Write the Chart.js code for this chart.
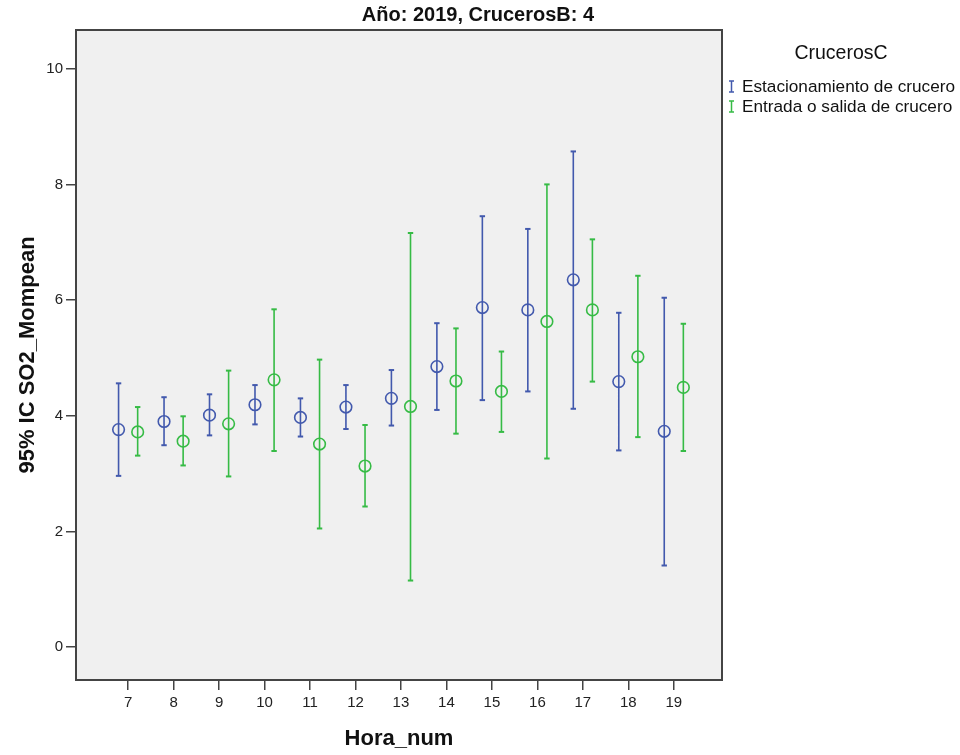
<!DOCTYPE html>
<html>
<head>
<meta charset="utf-8">
<script src="https://cdn.jsdelivr.net/npm/chart.js@4.4.0/dist/chart.umd.min.js"></script>
<style>
  body { margin: 0; background: #fff; font-family: "Liberation Sans", Arial, sans-serif; }
  #wrap { position: relative; width: 960px; height: 755px; }
  #titulo { position: absolute; top: 2px; left: 0; width: 956px; text-align: center;
            font-weight: bold; font-size: 20px; line-height: 24px; color: #111; }
  #leyenda { position: absolute; left: 722px; top: 40px; width: 238px; color: #111; }
  #leyenda .tit { text-align: center; font-size: 19.5px; line-height: 24px; margin-bottom: 12px; }
  #leyenda .item { font-size: 17.2px; line-height: 20px; white-space: nowrap; padding-left: 6px; }
  #leyenda svg { vertical-align: -1px; margin-right: 7px; }
</style>
</head>
<body>
<div id="wrap">
  <canvas id="grafico"></canvas>
  <div id="titulo">Año: 2019, CrucerosB: 4</div>
  <div id="leyenda"></div>
</div>
<script>
// Datos (media e IC 95%)
const horas = [7, 8, 9, 10, 11, 12, 13, 14, 15, 16, 17, 18, 19];

const estMedia = [3.76, 3.90, 4.01, 4.19, 3.97, 4.15, 4.30, 4.85, 5.87, 5.83, 6.35, 4.59, 3.73];
const estInf   = [2.96, 3.49, 3.66, 3.85, 3.64, 3.77, 3.83, 4.10, 4.27, 4.42, 4.12, 3.40, 1.41];
const estSup   = [4.56, 4.32, 4.37, 4.53, 4.30, 4.53, 4.79, 5.60, 7.45, 7.23, 8.57, 5.78, 6.04];

const entMedia = [3.72, 3.56, 3.86, 4.62, 3.51, 3.13, 4.16, 4.60, 4.42, 5.63, 5.83, 5.02, 4.49];
const entInf   = [3.31, 3.14, 2.95, 3.39, 2.05, 2.43, 1.15, 3.69, 3.72, 3.26, 4.59, 3.63, 3.39];
const entSup   = [4.15, 3.99, 4.78, 5.84, 4.97, 3.84, 7.16, 5.51, 5.11, 8.00, 7.05, 6.42, 5.59];

const ticksY = [0, 2, 4, 6, 8, 10];

const series = ['Estacionamiento de crucero', 'Entrada o salida de crucero'];
const colores = ['#4259ad', '#36bb45'];
const desp = 0.21; // separación de cada grupo respecto a la hora

function puntos(media, offset) {
    return horas.map((h, i) => ({ x: h + offset, y: media[i] }));
}

// cada barra de error: inferior, superior y un hueco para cortar la línea
function barras(inf, sup, offset) {
    return horas.flatMap((h, i) => [
        { x: h + offset, y: inf[i] },
        { x: h + offset, y: sup[i] },
        { x: h + offset, y: null }
    ]);
}

function datasetBarras(inf, sup, offset, color) {
    return {
        data: barras(inf, sup, offset),
        showLine: true,
        spanGaps: false,
        borderColor: color,
        borderWidth: 1.6,
        pointStyle: 'line',
        pointRadius: 2.7,
        pointBorderWidth: 2,
        pointBorderColor: color,
        order: 2
    };
}

function datasetMedias(media, offset, color) {
    return {
        data: puntos(media, offset),
        showLine: false,
        pointStyle: 'circle',
        pointRadius: 5.8,
        pointBorderWidth: 1.6,
        pointBorderColor: color,
        pointBackgroundColor: 'rgba(0,0,0,0)',
        order: 1
    };
}

// fondo gris del área y marco
const marco = {
    id: 'marco',
    beforeDraw(chart) {
        const { ctx, chartArea: a } = chart;
        ctx.save();
        ctx.fillStyle = '#f0f0f0';
        ctx.fillRect(a.left, a.top, a.right - a.left, a.bottom - a.top);
        ctx.restore();
    },
    afterDraw(chart) {
        const { ctx, chartArea: a } = chart;
        ctx.save();
        ctx.strokeStyle = '#444';
        ctx.lineWidth = 2;
        ctx.strokeRect(a.left, a.top, a.right - a.left, a.bottom - a.top);
        ctx.restore();
    }
};

const fuenteTicks = { family: '"Liberation Sans", Arial, sans-serif', size: 15 };
const fuenteTitulo = { family: '"Liberation Sans", Arial, sans-serif', size: 22, weight: 'bold' };

new Chart(document.getElementById('grafico'), {
    type: 'scatter',
    data: {
        datasets: [
            datasetBarras(estInf, estSup, -desp, colores[0]),
            datasetBarras(entInf, entSup, desp, colores[1]),
            datasetMedias(estMedia, -desp, colores[0]),
            datasetMedias(entMedia, desp, colores[1])
        ]
    },
    options: {
        responsive: true,
        maintainAspectRatio: false,
        animation: false,
        layout: { padding: { top: 30, right: 238, bottom: 0, left: 0 } },
        plugins: {
            legend: { display: false },
            tooltip: { enabled: false }
        },
        scales: {
            x: {
                type: 'linear',
                min: 5.854,
                max: 20.06,
                afterBuildTicks: s => { s.ticks = horas.map(v => ({ value: v })); },
                afterFit: s => { s.height = 75; },
                ticks: { color: '#222', font: fuenteTicks, padding: 4, callback: v => v },
                grid: { drawOnChartArea: false, color: '#444', lineWidth: 1.5, tickLength: 10 },
                border: { display: false },
                title: { display: true, text: 'Hora_num', color: '#111', font: fuenteTitulo,
                         padding: { top: 0, bottom: 3 } }
            },
            y: {
                min: -0.57,
                max: 10.67,
                afterBuildTicks: s => { s.ticks = ticksY.map(v => ({ value: v })); },
                afterFit: s => { s.width = 76; },
                ticks: { color: '#222', font: fuenteTicks, padding: 3, callback: v => v },
                grid: { drawOnChartArea: false, color: '#444', lineWidth: 1.5, tickLength: 10 },
                border: { display: false },
                title: { display: true, text: '95% IC SO2_Mompean', color: '#111', font: fuenteTitulo,
                         padding: { top: 15, bottom: 0 } }
            }
        }
    },
    plugins: [marco]
});

// leyenda
const ley = document.getElementById('leyenda');
let html = '<div class="tit">CrucerosC</div>';
series.forEach((s, i) => {
    html += '<div class="item"><svg width="7" height="13"><path d="M1 1H6M3.5 1V12M1 12H6" stroke="' +
        colores[i] + '" stroke-width="1.5" fill="none"/></svg>' + s + '</div>';
});
ley.innerHTML = html;
</script>
</body>
</html>
